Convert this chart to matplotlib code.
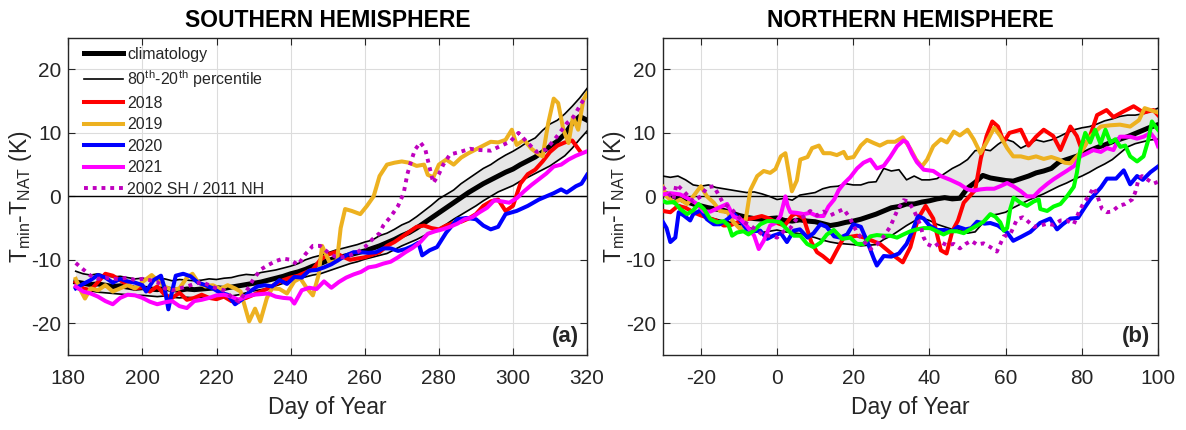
import numpy as np
import matplotlib
matplotlib.use("Agg")
import matplotlib.pyplot as plt
from matplotlib.lines import Line2D

plt.rcParams['font.family'] = ['Liberation Sans', 'DejaVu Sans']
plt.rcParams['mathtext.fontset'] = 'custom'
plt.rcParams['mathtext.rm'] = 'Liberation Sans'
plt.rcParams['mathtext.it'] = 'Liberation Sans'
plt.rcParams['axes.unicode_minus'] = False

# ---------------- DATA: Southern Hemisphere ----------------
sh_band_days = np.arange(182, 321, 2)
sh_clim = [-13.5, -13.7, -13.9, -13.8, -14.0, -14.2, -14.1, -14.3, -14.5, -14.4,
           -14.6, -14.7, -14.5, -14.7, -14.8, -14.6, -14.7, -14.6, -14.5, -14.4,
           -14.5, -14.3, -14.1, -13.9, -13.7, -13.5, -13.2, -12.9, -12.6, -12.2,
           -11.9, -11.5, -11.0, -10.6, -10.1, -9.8, -9.5, -9.2, -8.9, -8.6,
           -8.2, -7.8, -7.3, -6.8, -6.2, -5.7, -5.0, -4.2, -3.4, -2.6,
           -1.8, -1.0, -0.2, 0.6, 1.3, 2.0, 2.6, 3.2, 3.8, 4.3,
           5.0, 5.6, 6.2, 7.0, 7.9, 8.7, 9.8, 11.5, 12.6, 12.0]
sh_p80 = [-11.8, -12.2, -12.4, -12.2, -12.5, -12.7, -12.6, -12.8, -13.0, -12.9,
          -13.1, -13.2, -13.0, -13.3, -13.1, -13.2, -13.3, -13.2, -13.0, -13.1,
          -12.9, -12.8, -12.5, -12.3, -12.4, -12.0, -11.8, -11.6, -11.3, -11.0,
          -10.6, -10.0, -9.6, -9.3, -8.9, -8.5, -8.2, -7.9, -7.6, -7.2,
          -6.9, -6.2, -5.8, -5.2, -4.5, -4.0, -3.2, -2.3, -1.4, -0.4,
          0.3, 1.0, 2.0, 2.8, 3.6, 4.4, 5.0, 5.8, 6.5, 7.1,
          7.8, 8.6, 9.2, 10.4, 11.4, 12.0, 13.0, 14.2, 15.5, 17.0]
sh_p20 = [-14.6, -14.8, -14.9, -15.1, -15.2, -15.3, -15.4, -15.5, -15.6, -15.6,
          -15.7, -15.8, -15.7, -15.9, -16.0, -15.9, -16.0, -15.9, -15.9, -16.0,
          -15.8, -15.7, -15.5, -15.2, -14.9, -14.7, -14.5, -14.1, -13.7, -13.2,
          -13.0, -12.7, -12.4, -12.2, -11.8, -11.4, -11.0, -10.6, -10.3, -9.9,
          -9.6, -9.3, -9.0, -8.4, -7.8, -7.3, -6.8, -6.2, -5.6, -5.1,
          -4.4, -3.6, -2.9, -2.2, -1.5, -0.7, 0.0, 0.7, 1.2, 1.7,
          2.4, 3.0, 3.6, 4.2, 4.8, 5.6, 6.4, 7.6, 9.0, 10.3]

sh_2018_days = np.arange(182, 319, 2)
sh_2018 = [-13.5, -14.5, -14.8, -13.5, -12.2, -12.5, -13.2, -14.0, -14.5, -14.3,
           -15.0, -14.2, -15.5, -16.0, -15.2, -16.3, -16.0, -15.5, -16.0, -16.2,
           -15.8, -16.5, -16.3, -16.0, -15.5, -15.0, -14.5, -13.8, -13.2, -12.8,
           -12.5, -12.0, -11.5, -10.0, -9.2, -8.8, -9.5, -10.0, -9.8, -9.6,
           -9.2, -8.8, -7.8, -7.2, -6.4, -5.6, -4.8, -4.6, -5.0, -5.2,
           -4.6, -4.2, -4.0, -3.5, -2.8, -1.5, -0.8, -0.5, -2.3, -1.5,
           2.0, 3.5, 4.2, 5.5, 7.0, 8.0, 8.5, 8.8, 7.2]

sh_2019 = [(182, -13.0), (183.5, -15.0), (184.5, -16.1), (186, -14.5), (188, -14.8), (190, -14.0),
           (192, -15.0), (194, -14.5), (196, -14.0), (198, -14.5), (200, -13.5), (202.5, -12.4),
           (204, -13.2), (206, -14.2), (208, -14.8), (210, -14.5), (212, -12.8), (213.5, -12.2),
           (215, -13.5), (217, -14.2), (219, -14.0), (221, -14.6), (223, -14.0), (225, -14.5),
           (226.5, -15.0), (228.8, -19.7), (230.4, -17.7), (231.8, -19.7), (233.6, -16.0), (235, -14.5),
           (237, -14.6), (239, -15.3), (241, -13.4), (242.6, -12.9), (244.4, -14.5), (246, -15.6),
           (247.5, -12.5), (248.5, -7.8), (250.5, -10.4), (252.5, -10.2), (253.5, -5.0), (254.7, -2.0),
           (256.5, -2.3), (258.8, -2.8), (260.6, -1.5), (262.4, 0.0), (264, 3.2), (266, 5.0),
           (268, 5.3), (270, 5.5), (272, 5.3), (274, 4.8), (276, 5.0), (277, 3.4), (278.5, 3.0),
           (280, 5.0), (282, 5.8), (284, 5.0), (286, 6.1), (288, 6.8), (290, 7.4), (292, 8.0),
           (294, 8.6), (296, 8.5), (298, 8.9), (299.7, 10.5), (301, 8.1), (303, 8.9), (305, 7.5),
           (307, 6.6), (308, 6.3), (309.5, 11.5), (311, 15.4), (312.2, 14.7), (313.6, 10.5),
           (315, 8.4), (316.2, 12.5), (317.6, 10.5), (319, 15.2), (320, 16.2)]

sh_2020 = [(182, -14.5), (184, -13.8), (186, -13.2), (188, -12.4), (190, -12.8), (192, -13.6),
           (194, -13.0), (196, -13.4), (198, -13.6), (200, -14.0), (201, -15.0), (203, -13.2),
           (205, -12.5), (206, -14.5), (207, -17.8), (208, -15.0), (209, -12.5), (211, -12.2),
           (213, -12.6), (215, -13.6), (217, -14.0), (219, -14.5), (221, -15.2), (223, -15.5),
           (225, -17.0), (227, -16.2), (229, -15.0), (231, -14.2), (233, -14.0), (235, -14.2),
           (237, -13.2), (239, -13.8), (241, -12.7), (243, -12.8), (245, -11.7), (247, -11.6),
           (249, -11.2), (251, -10.7), (253, -10.0), (255, -9.3), (257, -8.8), (259, -8.8),
           (261, -8.9), (263, -8.8), (265, -8.2), (267, -8.2), (269, -8.6), (271, -8.3),
           (273, -7.8), (274.5, -7.3), (275.5, -9.3), (277.5, -8.5), (279.5, -8.0), (282, -5.7),
           (285, -3.6), (287.5, -3.4), (290, -3.6), (292, -4.6), (294, -5.2), (296, -4.8),
           (298, -2.8), (301, -2.3), (304, -1.5), (307, -0.5), (311, 0.5), (313, 1.1),
           (314.5, 0.6), (317, 1.6), (318.5, 2.0), (320, 3.4)]

sh_2021 = [(182, -14.2), (184, -15.0), (186, -15.3), (188, -15.8), (190, -16.5), (192, -17.0),
           (194, -16.0), (196, -15.5), (198, -15.6), (200, -16.0), (202, -16.6), (204, -17.0),
           (206, -16.7), (208, -16.5), (210, -17.3), (212, -17.6), (214, -16.5), (216, -16.3),
           (218, -16.0), (220, -15.6), (222, -15.5), (224, -15.8), (226, -16.3), (228, -15.8),
           (230, -15.5), (232, -15.4), (234, -15.3), (236, -15.8), (238, -16.0), (240, -16.1),
           (241, -16.9), (243, -14.8), (245, -14.4), (247, -14.6), (249, -13.4), (251, -14.4),
           (253, -13.5), (255, -12.8), (257, -12.3), (259, -11.9), (261, -11.2), (263, -11.0),
           (265, -10.6), (267, -10.3), (269, -9.6), (271, -8.8), (273, -8.1), (275, -7.2),
           (277, -5.9), (279, -5.5), (281, -5.2), (283, -4.8), (285, -4.3), (287, -3.6),
           (289, -3.3), (291, -2.5), (293, -1.8), (295, -0.6), (297, -0.8), (299, -1.0),
           (301, -0.3), (303, 0.8), (305, 1.8), (307, 2.7), (309, 3.6), (311, 4.7),
           (313, 5.0), (315, 5.8), (317, 6.4), (320, 7.1)]

sh_2002 = [(182, -10.5), (184, -11.5), (186, -12.5), (188, -13.0), (190, -12.8), (192, -13.0),
           (194, -13.0), (196, -12.8), (198, -13.2), (200, -13.0), (202, -13.2), (204, -13.5),
           (206, -14.5), (208, -14.8), (210, -14.5), (212, -14.2), (214, -13.8), (216, -13.5),
           (218, -14.0), (220, -14.5), (222, -14.8), (224, -15.8), (226, -16.6), (228, -15.0),
           (230, -13.0), (232, -11.5), (234, -10.8), (236, -10.2), (238, -9.8), (240, -10.0),
           (242, -10.8), (244, -9.1), (246, -7.8), (248, -7.8), (250, -8.8), (252, -9.5),
           (254, -9.6), (256, -9.3), (258, -8.8), (260, -8.0), (262, -6.8), (264, -5.8),
           (265, -4.6), (267, -3.2), (269, -1.5), (270.5, 0.5), (271.5, 3.5), (272.5, 5.5),
           (273.5, 7.3), (275, 8.5), (276.3, 7.5), (277.2, 5.3), (278.5, 2.1), (280, 3.5),
           (281.2, 5.0), (283, 6.6), (285.7, 7.0), (288.4, 7.5), (291, 7.3), (294, 7.2),
           (296.5, 7.9), (299.2, 8.6), (301.5, 10.0), (303.7, 8.6), (306.4, 7.0), (309, 7.4),
           (311.8, 9.4), (314.5, 11.5), (316.3, 12.5), (318, 14.2), (319.5, 15.7)]

# ---------------- DATA: Northern Hemisphere ----------------
nh_band_days = np.arange(-30, 101, 2)
nh_clim = [0.6, 0.2, -0.3, -0.8, -1.2, -1.5, -1.8, -2.0, -2.2, -2.6,
           -3.0, -3.3, -3.5, -3.6, -3.5, -3.4, -3.8, -3.9, -3.7, -3.9,
           -4.0, -4.3, -4.6, -4.4, -4.1, -3.9, -3.6, -3.2, -2.8, -2.3,
           -1.8, -1.6, -1.2, -1.2, -0.9, -0.7, -0.4, -0.2, -0.4, -0.3,
           1.3, 2.2, 3.3, 2.9, 2.7, 2.5, 2.4, 2.8, 3.2, 3.7,
           4.0, 4.4, 5.4, 5.8, 6.2, 6.6, 7.2, 7.7, 8.1, 8.6,
           9.0, 9.4, 9.9, 10.4, 10.9, 11.3]
nh_p80 = [3.2, 3.0, 3.2, 2.6, 1.8, 1.6, 1.8, 1.4, 1.2, 1.0,
          0.8, 0.6, 0.7, 0.4, 0.0, -0.5, -0.3, -0.6, 0.2, 0.4,
          0.6, 1.2, 1.5, 1.6, 2.0, 1.8, 1.8, 2.2, 2.3, 4.4,
          4.0, 4.2, 2.6, 3.2, 2.6, 2.6, 2.8, 3.6, 4.4, 5.0,
          5.8, 7.2, 7.4, 7.2, 8.2, 9.0, 8.6, 7.6, 8.2, 8.9,
          8.6, 8.9, 9.4, 10.0, 10.5, 10.8, 11.0, 11.4, 11.9, 12.2,
          12.6, 12.8, 12.8, 13.0, 13.4, 13.9]
nh_p20 = [-0.7, -1.0, -1.3, -1.8, -2.3, -2.8, -3.3, -3.6, -3.9, -4.1,
          -4.4, -4.8, -5.2, -5.7, -5.5, -5.3, -5.6, -5.7, -5.9, -6.2,
          -6.5, -6.9, -7.2, -7.4, -7.5, -7.6, -7.8, -7.7, -7.6, -6.8,
          -6.2, -5.4, -4.6, -3.9, -3.4, -3.8, -4.4, -4.8, -5.2, -5.3,
          -5.8, -5.6, -4.2, -3.0, -2.8, -2.5, -1.8, -1.2, -0.6, -0.1,
          0.4, 1.0, 1.6, 2.1, 2.7, 3.2, 3.8, 4.5, 5.1, 5.8,
          6.8, 7.8, 8.3, 8.6, 8.9, 9.0]

nh_2018 = [(-30, -2.3), (-28, -2.5), (-26, -1.5), (-24, -1.8), (-22, -2.5), (-20, -3.0), (-18, -3.4),
           (-16, -3.8), (-14, -4.6), (-12, -4.5), (-10, -4.0), (-8, -3.6), (-6, -3.4), (-4, -3.1),
           (-2, -3.5), (0, -4.2), (2, -4.6), (4, -3.0), (5, -2.7), (7, -3.5), (9, -7.2), (10.5, -8.8),
           (12, -9.4), (14, -10.4), (15.6, -8.6), (17.5, -6.5), (19, -6.4), (21, -6.2), (23, -6.5),
           (25, -7.0), (27, -7.5), (29, -8.5), (31, -9.5), (33, -10.4), (35, -8.0), (37, -3.5),
           (39, -1.5), (41, -3.5), (43, -8.5), (44.5, -9.0), (46, -5.5), (47.5, -3.8), (49, -1.0),
           (50.5, 0.0), (52, 1.0), (53.5, 6.0), (55, 9.5), (56.5, 11.8), (58, 11.0), (59.5, 8.6),
           (61, 10.0), (64, 10.5), (66, 8.0), (68, 9.4), (70, 10.5), (72.5, 9.5), (74.4, 7.3),
           (77, 11.0), (78.7, 9.5), (80, 7.3), (82, 9.2), (84, 12.8), (86.5, 13.6), (88.3, 12.5),
           (91, 13.4), (93.6, 14.2), (96.2, 13.2), (98.8, 13.6), (100, 12.8)]

nh_2019 = [(-30, 1.5), (-29, 0.0), (-27, -1.0), (-25.4, -0.5), (-23.6, -1.2), (-22, 0.0), (-20, 1.6),
           (-18.4, 0.0), (-16.6, -1.0), (-15, -2.3), (-13, -2.5), (-11.4, -4.1), (-9.6, -5.2),
           (-8.3, -4.0), (-7, 1.0), (-5.2, 3.2), (-3.5, 4.0), (-1.8, 3.7), (-0.4, 4.3), (1, 6.3),
           (2.2, 6.8), (3.1, 3.7), (3.9, 0.8), (5.2, 2.5), (6.1, 5.8), (8, 6.2), (9.2, 7.6),
           (11, 8.0), (12.2, 6.8), (14, 6.8), (15.7, 6.5), (17.5, 7.0), (18.4, 6.0), (20.1, 6.2),
           (22, 8.0), (23.6, 8.9), (25.4, 8.4), (27, 8.0), (29, 8.6), (31, 8.6), (33, 9.3),
           (35, 7.5), (36.5, 5.8), (38, 4.7), (39.4, 5.8), (41, 7.9), (43, 9.0), (44.6, 8.5),
           (46.4, 10.2), (48, 9.6), (50, 10.5), (51.6, 9.0), (53.4, 6.8), (55, 8.5), (57, 10.8),
           (58.6, 9.5), (60.4, 7.6), (62, 6.3), (64, 6.3), (66, 6.0), (68, 6.3), (70, 5.9),
           (72, 6.2), (74, 5.8), (75.5, 5.3), (77, 5.2), (79, 6.5), (80.5, 7.6), (82.2, 9.4),
           (85, 11.0), (87.5, 11.2), (90, 11.3), (92.7, 11.0), (95, 12.0), (96.5, 13.9),
           (98, 13.6), (100, 13.2)]

nh_2020 = [(-30, -4.0), (-29, -5.0), (-28, -7.2), (-26.7, -6.5), (-25.8, -2.5), (-24.5, -3.0),
           (-22.8, -3.8), (-22, -2.8), (-20, -2.2), (-18.4, -3.6), (-16.6, -4.4), (-15, -4.4),
           (-13, -3.6), (-11.4, -2.7), (-9.6, -3.8), (-8, -5.2), (-6, -5.5), (-4.4, -5.4),
           (-2.6, -6.7), (-1, -6.2), (1, -5.8), (2.6, -7.2), (4.4, -5.4), (6, -5.2), (8, -6.5),
           (9.6, -5.8), (11.4, -4.4), (13, -4.8), (15, -6.3), (16.6, -6.5), (18.4, -6.0), (20, -4.4),
           (22, -4.8), (23.6, -7.0), (25.4, -9.8), (26.2, -10.9), (28, -9.4), (30, -9.5), (32, -9.0),
           (34, -7.5), (35.5, -5.5), (37, -3.1), (38.5, -3.5), (40, -4.6), (42, -5.3), (44, -5.3),
           (46, -5.5), (47.5, -4.8), (49.5, -5.2), (51, -5.0), (52.5, -4.0), (54.5, -4.3), (56, -4.2),
           (58, -4.6), (60.4, -5.7), (62, -7.0), (64, -6.4), (66.5, -5.6), (69, -4.2), (71.7, -3.5),
           (73.5, -5.2), (75, -4.4), (77, -3.5), (79, -3.4), (80.5, -2.0), (82.2, -0.5), (85, 1.4),
           (86.6, 2.8), (89, 2.8), (91, 4.1), (92.7, 1.9), (94.5, 3.2), (96, 2.6), (98, 3.8),
           (100, 4.7)]

nh_2021 = [(-30, 0.3), (-28, 0.5), (-25.4, 0.3), (-22.8, -0.5), (-21, -1.2), (-19.2, -2.4),
           (-17.5, -2.4), (-15.7, -1.9), (-13.1, -1.2), (-11.4, -3.2), (-9.6, -3.6), (-8, -4.6),
           (-6, -6.2), (-4.8, -8.3), (-3.5, -7.0), (-1.8, -4.6), (-0.4, -4.2), (0.9, -3.1),
           (2.2, 0.0), (2.8, -1.5), (3.5, -2.5), (5.2, -2.6), (7, -2.8), (8.7, -2.6), (10.5, -3.1),
           (12.2, -3.1), (13.5, -1.6), (15, -0.5), (16.2, 1.0), (17.5, 2.0), (19.2, 3.0), (21, 4.4),
           (22.7, 5.3), (24.5, 5.8), (26.2, 4.4), (28, 4.8), (29.7, 6.2), (31.5, 7.9), (33.2, 8.8),
           (34.1, 8.5), (35.4, 6.8), (36.7, 5.4), (38.5, 4.2), (41, 4.0), (43, 3.2), (45.5, 2.6),
           (48, 1.9), (50, 1.1), (51.6, 0.9), (53.4, 1.1), (55, 1.2), (57, 1.2), (58.6, 1.6),
           (60.4, 2.1), (62, 1.6), (64, 0.8), (65.6, 0.0), (67.4, 0.0), (69, 1.0), (71, 2.0),
           (72.6, 2.7), (74.4, 3.4), (76, 4.0), (78, 4.8), (79.6, 6.3), (81.4, 6.8), (83, 7.3),
           (85, 7.0), (86.6, 7.6), (88.3, 7.3), (90, 9.4), (92.7, 9.4), (94.5, 9.1), (96.2, 9.4),
           (98, 10.0), (99.3, 9.0), (100, 7.9)]

nh_green = [(-30, -0.7), (-29, -1.0), (-27, -0.9), (-25.4, -2.0), (-23.6, -2.8), (-22, -2.2),
            (-20.6, -1.2), (-19.2, -2.0), (-17.5, -3.6), (-15.7, -4.1), (-14, -3.9), (-12.7, -4.6),
            (-11.8, -6.2), (-10.5, -5.7), (-8.8, -5.5), (-7.5, -6.0), (-5.7, -5.2), (-4.4, -4.4),
            (-2.6, -3.9), (-0.9, -3.9), (0.9, -4.1), (2.6, -5.2), (4.4, -6.2), (6.1, -6.2),
            (7.9, -7.5), (9.6, -8.0), (11.4, -7.3), (13.1, -6.0), (14.9, -5.3), (17.1, -6.7),
            (19.2, -6.5), (21, -7.5), (22.7, -7.5), (24.5, -6.3), (26.2, -6.1), (28, -6.2),
            (29.7, -6.2), (31.5, -6.5), (33.2, -6.0), (35, -5.5), (36.7, -5.2), (38.5, -5.0),
            (40.2, -5.0), (42, -5.5), (43.7, -6.0), (45.5, -5.5), (47.2, -5.5), (49, -5.8),
            (50.7, -5.2), (52.5, -4.6), (54.2, -4.0), (56, -2.8), (57.3, -3.2), (58.6, -4.1),
            (59.5, -5.4), (60.4, -5.0), (61.2, -2.0), (62.1, -0.2), (63.9, -1.0), (65.6, -1.5),
            (67.4, -0.8), (68.7, -0.5), (69.1, -2.0), (70.9, -2.3), (72.6, -1.6), (74.4, -1.2),
            (76.1, 0.0), (77.9, 1.5), (78.7, 3.7), (79.6, 7.3), (80.9, 10.0), (82.2, 8.5),
            (83.5, 10.5), (84.9, 8.3), (86.2, 10.5), (87.5, 8.5), (88.8, 9.0), (90.1, 7.8),
            (91.4, 8.0), (92.7, 6.3), (94.5, 5.5), (96.2, 6.3), (97.5, 9.0), (98.4, 11.8),
            (99.3, 11.0), (100, 10.5)]

nh_2011 = [(-30, 1.5), (-28.5, 0.5), (-27.2, -0.5), (-26.4, 1.9), (-24.5, 0.8), (-22, -0.8),
           (-20, 0.0), (-18.4, 1.4), (-16.6, 1.6), (-15.3, 0.2), (-14, -1.2), (-12.2, -1.8),
           (-10.5, -3.0), (-8.8, -4.0), (-7, -4.6), (-5.2, -5.4), (-3.5, -6.2), (-1.8, -6.2),
           (0, -6.5), (1.8, -5.5), (3.5, -5.0), (5.2, -3.5), (7, -3.2), (8.7, -2.3), (10.5, -3.0),
           (12.2, -2.4), (14, -3.0), (15.7, -2.5), (17.5, -2.0), (19.2, -3.5), (21, -5.7),
           (22.7, -7.0), (24.5, -8.3), (26.2, -7.6), (28, -6.3), (29.7, -4.8), (31.5, -2.3),
           (33.2, -0.6), (34.5, -0.8), (36, -2.3), (37.6, -4.5), (38.5, -6.5), (39.4, -7.5),
           (41.1, -8.0), (42.9, -7.2), (44.6, -7.7), (46.4, -7.5), (48, -8.2), (49.5, -7.5),
           (51, -7.0), (52.5, -7.6), (54.2, -7.4), (56, -8.0), (57.7, -8.7), (59.5, -6.3),
           (61.2, -6.0), (63, -3.6), (64.5, -3.3), (65.6, -3.8), (67.4, -4.8), (69.1, -4.6),
           (70.9, -4.3), (72.6, -4.5), (74.4, -3.8), (76.1, -3.8), (77.9, -4.4), (79.2, -2.5),
           (80.5, -1.0), (81.8, 0.0), (83.1, 1.4), (84, 0.2), (85.3, -2.0), (86.6, -2.5),
           (87.9, -2.4), (89.7, -1.5), (91.4, -1.2), (93.2, -0.5), (94, 0.6), (94.9, 2.7),
           (95.8, 3.2), (97.1, 2.7), (98.8, 2.0), (100, 2.3)]

legend_labels = ['climatology', r'80$^{\mathrm{th}}$-20$^{\mathrm{th}}$ percentile',
                 '2018', '2019', '2020', '2021', '2002 SH / 2011 NH']

# ---------------- STYLE ----------------
C_RED, C_ORG, C_BLU, C_MAG, C_GRN, C_DOT = '#FF0000', '#EDB120', '#0000FF', '#FF00FF', '#00FF00', '#BF00BF'
LW_Y, LW_CL, LW_P = 2.9, 3.6, 1.2
DOTSTYLE = (0, (1.0, 1.25))
FILL = '#E6E6E6'


def xy(pairs):
    d, v = zip(*pairs)
    return np.array(d), np.array(v)


fig = plt.figure(figsize=(11.86, 4.30), dpi=100)
axL = fig.add_axes([0.0576, 0.1744, 0.4374, 0.7379])
axR = fig.add_axes([0.5588, 0.1744, 0.4176, 0.7379])


def style_axes(ax, xlim, xticks, title, tag):
    ax.set_xlim(*xlim)
    ax.set_ylim(-25, 25)
    ax.set_xticks(xticks)
    ax.set_yticks([-20, -10, 0, 10, 20])
    ax.grid(True, color='#DCDCDC', lw=0.8)
    ax.set_axisbelow(True)
    ax.axhline(0, color='k', lw=1.0, zorder=2)
    ax.tick_params(direction='in', length=5, width=0.8, top=True, right=True,
                   labelsize=15, colors='#262626')
    ax.tick_params(axis='x', pad=10)
    ax.tick_params(axis='y', pad=5)
    for s in ax.spines.values():
        s.set_linewidth(1.0)
        s.set_color('#262626')
    ax.set_title(title, fontsize=16.5, fontweight='bold', pad=8)
    ax.set_xlabel('Day of Year', fontsize=16.5, color='#262626', labelpad=6)
    ax.set_ylabel(r'T$_{\mathrm{min}}$-T$_{\mathrm{NAT}}$ (K)', fontsize=16.5,
                  color='#262626', labelpad=-2)
    ax.text(0.985, 0.025, tag, transform=ax.transAxes, ha='right', va='bottom',
            fontsize=16, fontweight='bold', color='#262626')


# ---- Southern hemisphere ----
axL.fill_between(sh_band_days, sh_p20, sh_p80, color=FILL, lw=0, zorder=1.5)
axL.plot(sh_band_days, sh_p80, color='k', lw=LW_P, zorder=3)
axL.plot(sh_band_days, sh_p20, color='k', lw=LW_P, zorder=3)
axL.plot(sh_band_days, sh_clim, color='k', lw=LW_CL, zorder=3)
axL.plot(sh_2018_days, sh_2018, color=C_RED, lw=LW_Y, zorder=4)
axL.plot(*xy(sh_2019), color=C_ORG, lw=LW_Y, zorder=4)
axL.plot(*xy(sh_2020), color=C_BLU, lw=LW_Y, zorder=4)
axL.plot(*xy(sh_2021), color=C_MAG, lw=LW_Y, zorder=4)
axL.plot(*xy(sh_2002), color=C_DOT, lw=2.8, linestyle=DOTSTYLE, zorder=5)
style_axes(axL, (180, 320), np.arange(180, 321, 20), 'SOUTHERN HEMISPHERE', '(a)')

# ---- Northern hemisphere ----
axR.fill_between(nh_band_days, nh_p20, nh_p80, color=FILL, lw=0, zorder=1.5)
axR.plot(nh_band_days, nh_p80, color='k', lw=LW_P, zorder=3)
axR.plot(nh_band_days, nh_p20, color='k', lw=LW_P, zorder=3)
axR.plot(nh_band_days, nh_clim, color='k', lw=LW_CL, zorder=3)
axR.plot(*xy(nh_2018), color=C_RED, lw=LW_Y, zorder=4)
axR.plot(*xy(nh_2019), color=C_ORG, lw=LW_Y, zorder=4)
axR.plot(*xy(nh_2020), color=C_BLU, lw=LW_Y, zorder=4)
axR.plot(*xy(nh_2021), color=C_MAG, lw=LW_Y, zorder=4)
axR.plot(*xy(nh_green), color=C_GRN, lw=LW_Y, zorder=4)
axR.plot(*xy(nh_2011), color=C_DOT, lw=2.8, linestyle=DOTSTYLE, zorder=5)
style_axes(axR, (-30, 100), np.arange(-20, 101, 20), 'NORTHERN HEMISPHERE', '(b)')

# ---- Legend ----
handles = [Line2D([], [], color='k', lw=LW_CL),
           Line2D([], [], color='k', lw=LW_P),
           Line2D([], [], color=C_RED, lw=LW_Y),
           Line2D([], [], color=C_ORG, lw=LW_Y),
           Line2D([], [], color=C_BLU, lw=LW_Y),
           Line2D([], [], color=C_MAG, lw=LW_Y),
           Line2D([], [], color=C_DOT, lw=2.8, linestyle=DOTSTYLE)]
leg = axL.legend(handles, legend_labels, loc='upper left', bbox_to_anchor=(0.03, 0.972),
                 frameon=False, fontsize=11.5, handlelength=2.45, handletextpad=0.25,
                 labelspacing=0.40, borderaxespad=0, borderpad=0)
for t in leg.get_texts():
    t.set_color('#262626')

fig.savefig('out.png', dpi=100)
